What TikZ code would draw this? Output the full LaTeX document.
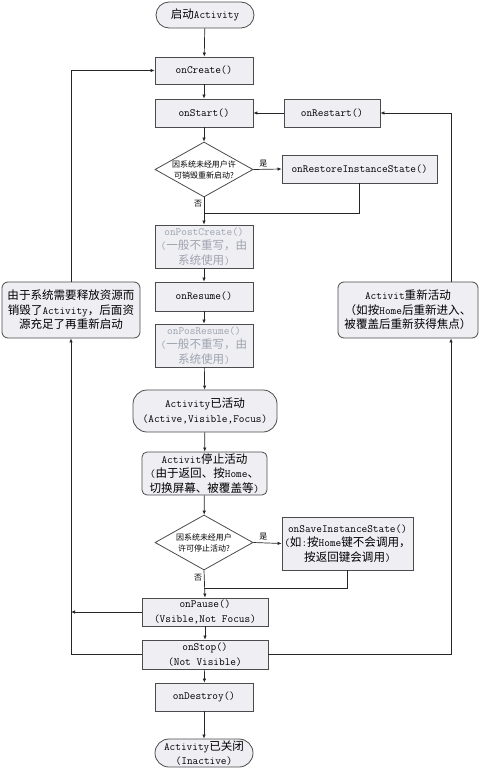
\documentclass[tikz,border=0pt]{standalone}
\usepackage{fontspec}
\newfontfamily\cjk[Scale=1.05]{Noto Sans CJK SC}
\usetikzlibrary{shapes.geometric,arrows.meta}
\definecolor{boxfill}{RGB}{238,238,243}
\definecolor{boxline}{RGB}{75,75,75}
\definecolor{faint}{RGB}{158,164,175}
\begin{document}
\begin{tikzpicture}[x=1pt,y=-1pt,
  every node/.style={font=\fontsize{11}{14.5}\selectfont\ttfamily},
  box/.style={draw=boxline,fill=boxfill,line width=0.8pt,inner sep=0pt,align=center},
  pill/.style={box,rounded corners=13pt},
  rbox/.style={box,rounded corners=6pt},
  dia/.style={draw=boxline,fill=white,line width=0.8pt,diamond,inner sep=0pt,minimum width=98pt,minimum height=55pt},
  dtext/.style={font=\fontsize{7.6}{11}\selectfont\cjk,align=center,inner sep=0pt},
  small/.style={font=\fontsize{7.6}{9}\selectfont\cjk,inner sep=0pt},
  faded/.style={text=faint},
  conn/.style={draw=black!85,line width=0.7pt},
  arr/.style={conn,-{Latex[length=4pt,width=3.5pt]}}
]
\path[use as bounding box] (0,0) rectangle (479,768);

\node[pill,minimum width=98pt,minimum height=26pt] (start) at (205,15) {{\cjk 启动}Activity};
\node[box,minimum width=98pt,minimum height=27pt] (create) at (204,70.5) {onCreate()};
\node[box,minimum width=98pt,minimum height=28pt] (startN) at (204,113) {onStart()};
\node[box,minimum width=96pt,minimum height=28pt] (restart) at (332,113) {onRestart()};
\node[dia] (d1) at (204,169.5) {};
\node[dtext] (d1t) at (d1.center) {因系统未经用户许\\可销毁重新启动?};
\node[box,minimum width=155pt,minimum height=28pt] (restore) at (359.5,169) {onRestoreInstanceState()};
\node[box,faded,minimum width=98pt,minimum height=43pt] (postcreate) at (204,246.5) {onPostCreate()\\({\cjk 一般不重写，由}\\{\cjk 系统使用})};
\node[box,minimum width=98pt,minimum height=29pt] (resume) at (204,296.5) {onResume()};
\node[box,faded,minimum width=98pt,minimum height=43pt] (posresume) at (204,345.5) {onPosResume()\\({\cjk 一般不重写，由}\\{\cjk 系统使用})};
\node[rbox,minimum width=138pt,minimum height=56pt] (leftbox) at (71,310) {{\cjk 由于系统需要释放资源而}\\{\cjk 销毁了}Activity{\cjk ，后面资}\\{\cjk 源充足了再重新启动}};
\node[rbox,minimum width=140pt,minimum height=56pt] (rightbox) at (408,310) {Activit{\cjk 重新活动}\\{\cjk （如按}Home{\cjk 后重新进入、}\\{\cjk 被覆盖后重新获得焦点）}};
\node[box,rounded corners=14pt,minimum width=144pt,minimum height=42pt] (active) at (205,411) {Activity{\cjk 已活动}\\(Active,Visible,Focus)};
\node[box,rounded corners=5pt,minimum width=125pt,minimum height=43pt] (stopact) at (204.5,473.5) {Activit{\cjk 停止活动}\\({\cjk 由于返回、按}Home{\cjk 、}\\{\cjk 切换屏幕、被覆盖等})};
\node[dia] (d2) at (204,542.5) {};
\node[dtext] (d2t) at (d2.center) {因系统未经用户\\许可停止活动?};
\node[box,minimum width=131pt,minimum height=53pt] (save) at (347.5,543.5) {onSaveInstanceState()\\({\cjk 如}:{\cjk 按}Home{\cjk 键不会调用，}\\{\cjk 按返回键会调用})};
\node[box,minimum width=126pt,minimum height=28pt] (pause) at (205,612) {onPause()\\(Vsible,Not Focus)};
\node[box,minimum width=126pt,minimum height=29pt] (stop) at (205,654.5) {onStop()\\(Not Visible)};
\node[box,minimum width=98pt,minimum height=28pt] (destroy) at (204,697) {onDestroy()};
\node[box,rounded corners=14pt,minimum width=98pt,minimum height=28pt] (endN) at (204,753) {Activity{\cjk 已关闭}\\(Inactive)};

\coordinate (j1) at (204,213);
\coordinate (j2) at (204,588);

\draw[arr] (start) -- (create);
\draw[arr] (create) -- (startN);
\draw[arr] (restart) -- (startN);
\draw[arr] (startN) -- (d1);
\draw[arr] (d1.east) -- node[small,above,pos=0.35,yshift=2pt] (yes1) {是} (restore.west);
\draw[conn] (restore.south) |- (j1);
\draw[arr] (d1.south) -- (postcreate.north);
\node[small] (no1) at (198,204) {否};
\draw[arr] (postcreate) -- (resume);
\draw[arr] (resume) -- (posresume);
\draw[arr] (posresume) -- (active);
\draw[arr] (active) -- (stopact);
\draw[arr] (stopact) -- (d2);
\draw[arr] (d2.east) -- node[small,above,pos=0.35,yshift=2pt] (yes2) {是} (save.west);
\draw[conn] (save.south) |- (j2);
\draw[arr] (d2.south) -- (pause.north);
\node[small] (no2) at (198,578) {否};
\draw[arr] (pause) -- (stop);
\draw[arr] (stop) -- (destroy);
\draw[arr] (destroy) -- (endN);

\draw[arr] (pause.west) -- (pause.west -| leftbox.south);
\draw[arr] (stop.west) -| (leftbox.south);
\draw[arr] (leftbox.north) |- (create.west);
\draw[arr] (stop.east) -| ([xshift=43pt]rightbox.south);
\draw[arr] ([xshift=43pt]rightbox.north) |- (restart.east);
\end{tikzpicture}
\end{document}
